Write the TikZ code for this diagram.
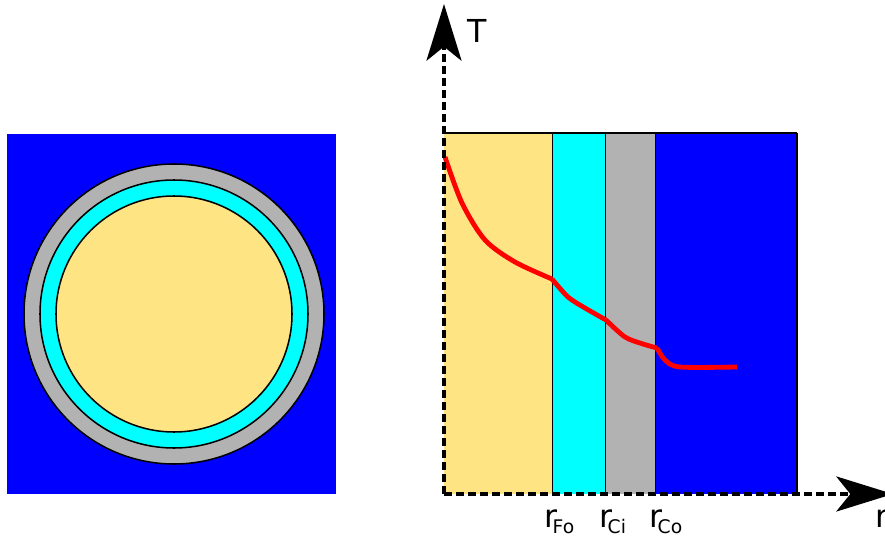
\documentclass[tikz,border=0pt]{standalone}
\usepackage{fontspec}
\setmainfont{DejaVu Sans}
\usetikzlibrary{arrows.meta}

\definecolor{fuel}{RGB}{255,228,132}
\definecolor{gap}{RGB}{0,255,255}
\definecolor{clad}{RGB}{178,178,178}
\definecolor{coolant}{RGB}{0,0,255}

% radius label with a small lowered index
\newcommand{\radlabel}[1]{r\kern-0.16em\raisebox{-0.19em}{\fontsize{16}{16}\selectfont #1}}

\begin{document}
\begin{tikzpicture}[x=0.03cm, y=-0.03cm,
    ring/.style={draw, line width=1.3pt},
    edge/.style={draw, line width=1pt},
    axis/.style={line width=3.3pt, dash pattern=on 0.24cm off 0.12cm, -{Stealth[length=1.7cm, width=1.05cm, inset=0.42cm]}},
    lbl/.style={inner sep=0pt, anchor=base west, font=\fontsize{27}{30}\selectfont}]
    \useasboundingbox (0,0) rectangle (885,538);

    % cross-section of the pin in its coolant
    \fill[coolant] (7,134) rectangle (336,494);
    \foreach \rad/\col in {150/clad, 134/gap, 118/fuel} {
        \draw[ring, fill=\col] (174,314) circle[radius=\rad];
    }

    % the same layers laid out along r
    \foreach \xa/\xb/\col in {444/553/fuel, 553/606/gap, 606/656/clad, 656/797/coolant} {
        \fill[\col] (\xa,133) rectangle (\xb,494);
        \draw[edge] (\xb,133) -- (\xb,494);
    }
    \draw[edge] (444,133) -- (797,133);

    % temperature profile
    \draw[red, line width=4.1pt, line join=round] plot[smooth, tension=0.5] coordinates {
        (445,157) (462,203) (485,240) (515,262) (552,279)}
        plot[smooth, tension=0.5] coordinates {(552,279) (568,297) (585,308) (606,320)}
        plot[smooth, tension=0.5] coordinates {(606,320) (625,337) (643,344) (657,348)}
        plot[smooth, tension=0.5] coordinates {(657,348) (665,360) (680,367) (737,367)};

    % axes
    \coordinate (origin) at (444,494);
    \coordinate (Ttip) at (444,4);
    \coordinate (rtip) at (893,494);
    \draw[axis] (origin) -- (Ttip);
    \draw[axis] (origin) -- (rtip);

    % labels
    \node[lbl] (Tlbl) at (467,43) {T};
    \node[lbl] (rlbl) at (875,527) {r};
    \node[lbl] (rFo) at (544.5,527) {\radlabel{Fo}};
    \node[lbl] (rCi) at (599.5,527) {\radlabel{Ci}};
    \node[lbl] (rCo) at (649.5,527) {\radlabel{Co}};
\end{tikzpicture}
\end{document}
